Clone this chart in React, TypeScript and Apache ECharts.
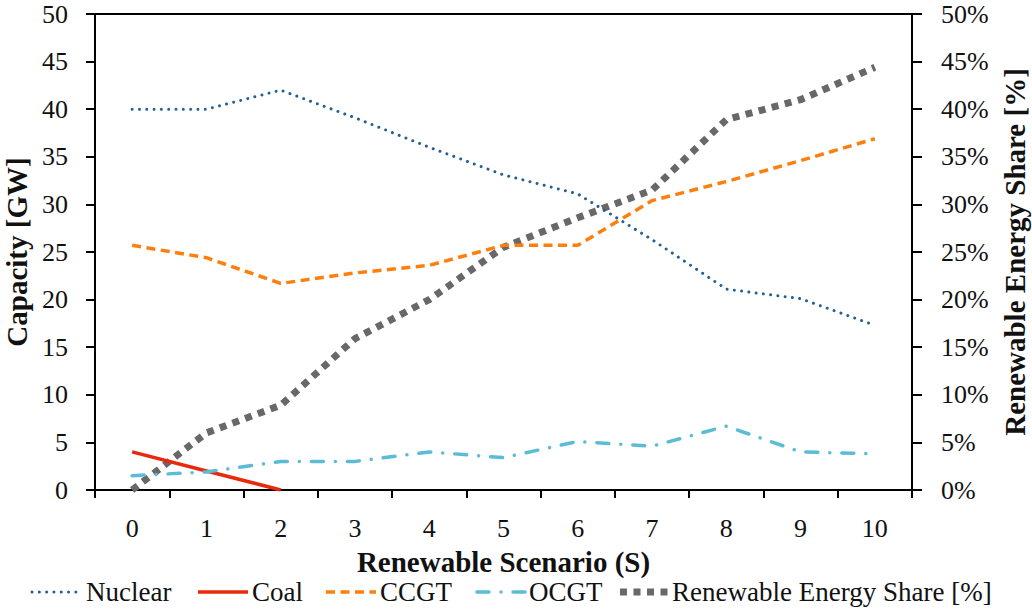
import React, { useEffect, useRef } from "react";
import * as echarts from "echarts";

const categories = ["0", "1", "2", "3", "4", "5", "6", "7", "8", "9", "10"];
const nuclear = [40, 40, 42, 39.1, 36, 33.1, 31.1, 26.3, 21.1, 20.1, 17.3];
const coal = [4, 2, 0, null, null, null, null, null, null, null, null];
const ccgt = [25.7, 24.4, 21.7, 22.8, 23.6, 25.7, 25.7, 30.4, 32.4, 34.6, 36.9];
const ocgt = [1.5, 1.9, 3.0, 3.0, 4.0, 3.4, 5.1, 4.6, 6.7, 4.0, 3.8];
const reShare = [0, 6.0, 8.9, 15.9, 20.0, 25.5, 28.6, 31.5, 38.9, 41.0, 44.4];
const seriesNames = ["Nuclear", "Coal", "CCGT", "OCGT", "Renewable Energy Share [%]"];

const FONT = "Liberation Serif, DejaVu Serif";

const NUC = { color: "#255E91", width: 3, dash: [0.01, 7.3], cap: "round" };
const COAL = { color: "#E8290B", width: 3.5, dash: null as any, cap: "butt" };
const CCGT = { color: "#FF7F0E", width: 3.5, dash: [9, 5.5], cap: "butt" };
const OCGT = { color: "#5BBCD6", width: 3.5, dash: [12, 12, 0.01, 12], cap: "round" };
const RES = { color: "#686868", width: 7, dash: [7, 6.5], cap: "butt" };
const styles = [NUC, COAL, CCGT, OCGT, RES];

// legend layout (sample start, sample end, text start)
const legendPos = [
  [32, 80, 86],
  [198, 248, 252],
  [326, 376, 380],
  [477, 527, 529],
  [620, 668, 672],
];

export default function App() {
  const ref = useRef<HTMLDivElement>(null);
  useEffect(() => {
    if (!ref.current) return;
    const chart = echarts.init(ref.current, undefined, { renderer: "svg" });
    const axisLine = { show: true, lineStyle: { color: "#000", width: 2 } };
    const tickStyle = { color: "#000", width: 2 };
    const lab = { fontFamily: FONT, fontSize: 26, color: "#111" };
    const nameStyle = { fontFamily: FONT, fontSize: 29, fontWeight: "bold", color: "#111" };
    const ly = 592;
    const legendGraphics: any[] = [];
    seriesNames.forEach((n, i) => {
      const s = styles[i];
      const p = legendPos[i];
      legendGraphics.push({
        type: "line",
        shape: { x1: p[0], y1: ly, x2: p[1], y2: ly },
        style: {
          stroke: s.color,
          lineWidth: s.width,
          lineDash: s.dash || undefined,
          lineCap: s.cap,
        },
      });
      legendGraphics.push({
        type: "text",
        x: p[2],
        y: ly,
        style: {
          text: n,
          fontFamily: FONT,
          fontSize: 27,
          fill: "#111",
          verticalAlign: "middle",
          align: "left",
        },
      });
    });
    const mk = (i: number, data: any[], extra: any = {}) => {
      const s = styles[i];
      return {
        name: seriesNames[i],
        type: "line",
        data,
        symbol: "none",
        color: s.color,
        lineStyle: { color: s.color, width: s.width, type: s.dash || "solid", cap: s.cap },
        z: 3,
        ...extra,
      };
    };
    chart.setOption({
      animation: false,
      backgroundColor: "#fff",
      textStyle: { fontFamily: FONT },
      grid: {
        left: 95,
        right: 120,
        top: 14,
        bottom: 121,
        containLabel: false,
        outerBoundsMode: "none",
        show: true,
        borderColor: "#000",
        borderWidth: 2,
      },
      graphic: legendGraphics,
      xAxis: {
        type: "category",
        data: categories,
        boundaryGap: true,
        name: "Renewable Scenario (S)",
        nameLocation: "middle",
        nameGap: 57,
        nameTextStyle: nameStyle,
        axisLine,
        axisTick: { show: true, length: 8, lineStyle: tickStyle, alignWithLabel: false },
        axisLabel: { ...lab, margin: 25 },
        splitLine: { show: false },
      },
      yAxis: [
        {
          type: "value",
          min: 0,
          max: 50,
          interval: 5,
          name: "Capacity [GW]",
          nameLocation: "middle",
          nameRotate: 90,
          nameGap: 58,
          nameTextStyle: nameStyle,
          axisLine,
          axisTick: { show: true, length: 9, lineStyle: tickStyle },
          axisLabel: { ...lab, margin: 27 },
          splitLine: { show: false },
        },
        {
          type: "value",
          min: 0,
          max: 50,
          interval: 5,
          position: "right",
          name: "Renewable Energy Share [%]",
          nameLocation: "middle",
          nameRotate: 90,
          nameGap: 88,
          nameTextStyle: nameStyle,
          axisLine,
          axisTick: { show: true, length: 10, lineStyle: tickStyle },
          axisLabel: { ...lab, margin: 29, formatter: "{value}%" },
          splitLine: { show: false },
        },
      ],
      series: [
        mk(0, nuclear),
        mk(1, coal),
        mk(2, ccgt),
        mk(3, ocgt),
        mk(4, reShare, { yAxisIndex: 1, z: 2 }),
      ],
    });
    return () => chart.dispose();
  }, []);
  return (
    <div
      ref={ref}
      style={{ position: "fixed", left: 0, top: 0, width: 1032, height: 611, background: "#fff" }}
    />
  );
}
